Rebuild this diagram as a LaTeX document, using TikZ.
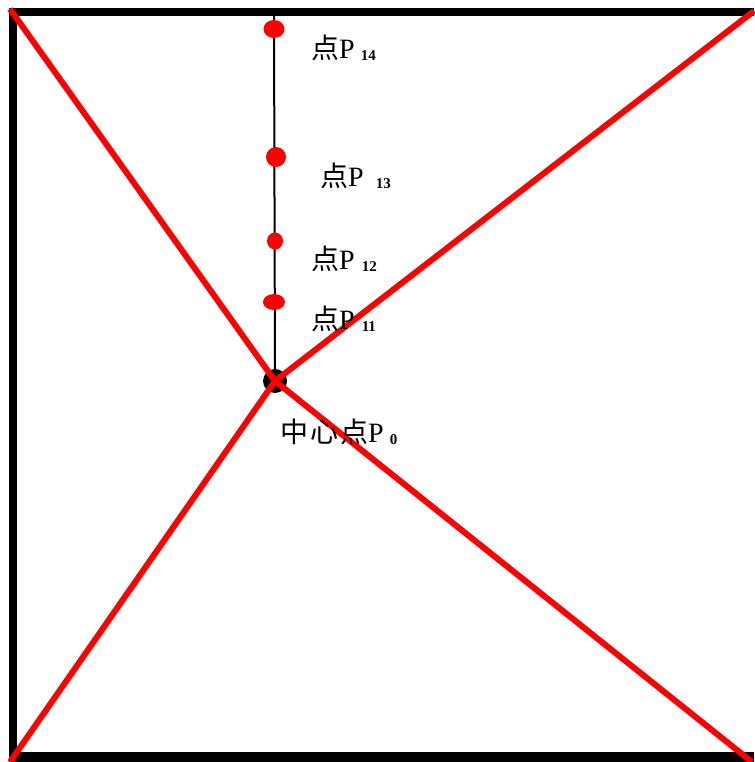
\documentclass[tikz,border=0pt]{standalone}
\usepackage{fontspec}
\setmainfont{Liberation Serif}
\newfontfamily\cjk{Noto Sans CJK SC}
\tikzset{
  reddot/.style={fill=red, draw=none, ellipse, inner sep=0pt},
  redline/.style={draw=red, line width=6pt},
  lbl/.style={anchor=base west, inner sep=0pt, font=\fontsize{28}{28}\selectfont},
}
\usetikzlibrary{shapes.geometric}
\newcommand{\sbx}[1]{\kern#1pt}
\newcommand{\subnum}[1]{\raisebox{-2pt}{\fontsize{15}{15}\selectfont\bfseries #1}}
\begin{document}
\begin{tikzpicture}[x=1pt,y=-1pt]
\useasboundingbox (0,0) rectangle (754,762);
\fill[white] (0,0) rectangle (754,762);
% border
\fill[black] (9,8) rectangle (17,762);
\fill[black] (9,8) rectangle (754,16);
\fill[black] (9,752) rectangle (754,762);
% corners and center
\coordinate (tl) at (10,9);
\coordinate (tr) at (754,11);
\coordinate (bl) at (10,762);
\coordinate (br) at (752,762);
\coordinate (top) at (274,16);
\node[circle, fill=black, minimum size=24pt, inner sep=0pt] (c) at (275,381) {};
\draw[black, line width=2pt] (top) -- (c.center);
\draw[redline] (tl) -- (c.center);
\draw[redline] (tr) -- (c.center);
\draw[redline] (bl) -- (c.center);
\draw[redline] (br) -- (c.center);
% red dots
\node[reddot, minimum width=21pt, minimum height=18pt] (p14) at (274,29) {};
\node[reddot, minimum width=20pt, minimum height=20pt] (p13) at (276,157) {};
\node[reddot, minimum width=16pt, minimum height=17pt] (p12) at (275,241) {};
\node[reddot, minimum width=22pt, minimum height=16pt] (p11) at (274,302) {};
% labels
\node[lbl] (l14) at (311,59) {{\cjk 点}P\sbx{6}\subnum{14}};
\node[lbl] (l13) at (320,186) {{\cjk 点}P\sbx{12}\subnum{13}};
\node[lbl] (l12) at (311,269) {{\cjk 点}P\sbx{7}\subnum{12}};
\node[lbl] (l11) at (311,329) {{\cjk 点}P\sbx{7}\subnum{11}};
\node[lbl] (l0) at (280,442) {{\cjk 中\kern2pt 心\kern2pt 点}P\sbx{6}\subnum{0}};
\end{tikzpicture}
\end{document}
